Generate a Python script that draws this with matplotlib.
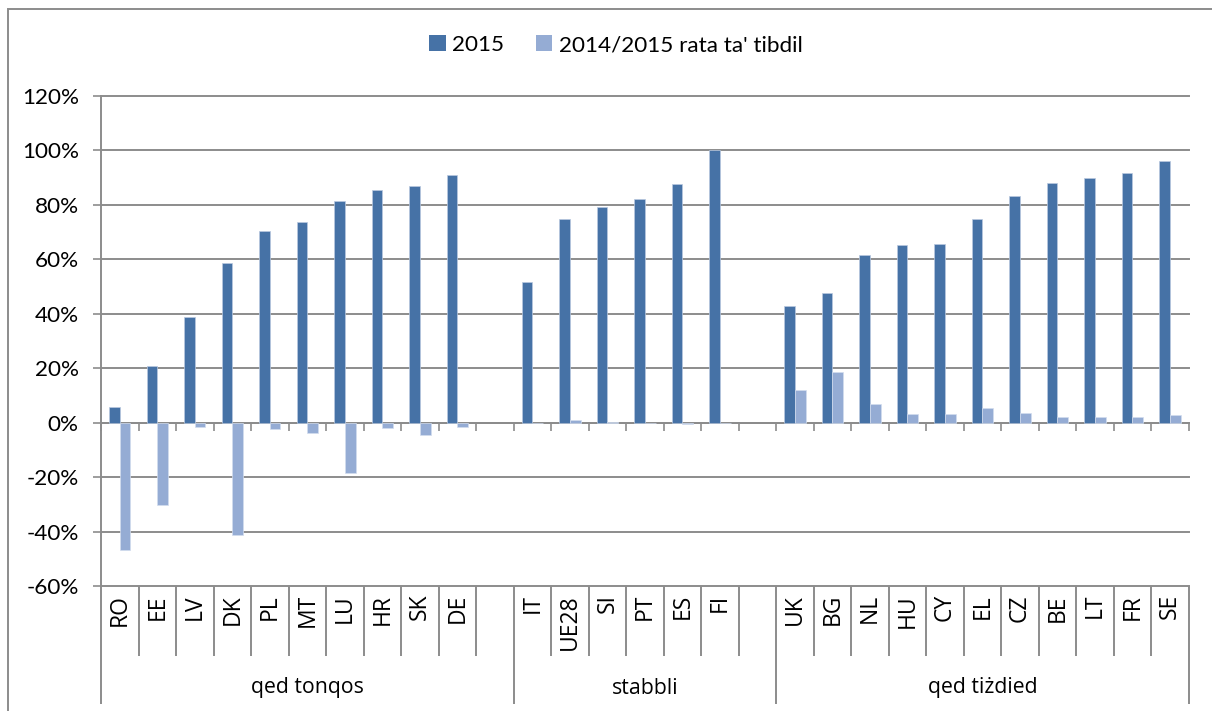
import numpy as np
import matplotlib
matplotlib.use("Agg")
import matplotlib.pyplot as plt
import matplotlib.transforms as mtransforms
from matplotlib.patches import Rectangle, Patch

# ---- data -------------------------------------------------------------
group_names = ["qed tonqos", "stabbli", "qed tiżdied"]

codes_down = ["RO", "EE", "LV", "DK", "PL", "MT", "LU", "HR", "SK", "DE"]
codes_stable = ["IT", "UE28", "SI", "PT", "ES", "FI"]
codes_up = ["UK", "BG", "NL", "HU", "CY", "EL", "CZ", "BE", "LT", "FR", "SE"]

share_2015_down = [5.7, 20.8, 39.0, 58.6, 70.5, 73.7, 81.4, 85.4, 86.9, 91.0]
share_2015_stable = [51.6, 74.9, 79.2, 82.2, 87.6, 100.0]
share_2015_up = [42.8, 47.6, 61.5, 65.1, 65.7, 74.9, 83.2, 88.1, 89.8, 91.6, 96.0]

change_down = [-46.6, -30.2, -1.7, -41.3, -2.4, -3.9, -18.6, -1.8, -4.5, -1.5]
change_stable = [-0.3, 0.8, 0.3, -0.3, -0.4, 0.0]
change_up = [12.0, 18.5, 6.9, 3.1, 3.1, 5.4, 3.4, 2.2, 2.0, 2.2, 2.7]

series_names = ["2015", "2014/2015 rata ta' tibdil"]
y_ticks = [-60, -40, -20, 0, 20, 40, 60, 80, 100, 120]

# ---- assemble slots (an empty slot closes the first two groups) -------
groups = [
    (codes_down, share_2015_down, change_down),
    (codes_stable, share_2015_stable, change_stable),
    (codes_up, share_2015_up, change_up),
]
labels, v2015, vchg, group_bounds = [], [], [], [0]
for gi, (codes, a, b) in enumerate(groups):
    labels += codes
    v2015 += a
    vchg += b
    if gi < len(groups) - 1:
        labels.append("")
        v2015.append(np.nan)
        vchg.append(np.nan)
    group_bounds.append(len(labels))

n = len(labels)
v2015 = np.array(v2015) / 100.0
vchg = np.array(vchg) / 100.0

# ---- style ------------------------------------------------------------
W, H = 1212, 711
DARK = "#4672A6"
LIGHT = "#95ACD4"
GRID = "#8C8C8C"
TXT = "#000000"
plt.rcParams["font.family"] = ["Lato", "DejaVu Sans"]
CAT_FONT = ["Open Sans", "DejaVu Sans"]

fig = plt.figure(figsize=(W / 100, H / 100), dpi=100)
fig.patch.set_facecolor("white")

# outer chart frame
fig.add_artist(Rectangle((8 / W, -0.2), 1.3, 1.2 - 9 / H,
                         transform=fig.transFigure, fill=False,
                         edgecolor=GRID, linewidth=1.4))

x0, x1 = 101 / W, 1188.7 / W
yb, yt = 1 - 586 / H, 1 - 96 / H
ax = fig.add_axes([x0, yb, x1 - x0, yt - yb])
ax.set_xlim(0, n)
ax.set_ylim(-0.6, 1.2)

bw = 0.2857
centers = np.arange(n) + 0.5
ax.bar(centers - bw, v2015, width=bw, align="edge", color=DARK,
       edgecolor="#B9C9E0", linewidth=0.5, zorder=3, label=series_names[0])
ax.bar(centers, vchg, width=bw, align="edge", color=LIGHT,
       edgecolor="#D3DDEE", linewidth=0.5, zorder=3, label=series_names[1])

# value axis
ax.set_yticks(np.array(y_ticks) / 100.0)
ax.set_yticklabels([f"{t}%" for t in y_ticks], fontsize=16.2, color=TXT)
ax.yaxis.grid(True, color=GRID, linewidth=1.4, zorder=0)
for gl in ax.get_ygridlines():
    gl.set_clip_on(False)
ax.tick_params(axis="y", length=6, width=1.2, color=GRID, pad=10)
for s in ["top", "right"]:
    ax.spines[s].set_visible(False)
ax.spines["left"].set_color(GRID)
ax.spines["left"].set_linewidth(1.4)

# category axis crossing at zero with outward ticks at slot boundaries
ax.spines["bottom"].set_position(("data", 0))
ax.spines["bottom"].set_color(GRID)
ax.spines["bottom"].set_linewidth(1.4)
ax.set_xticks(np.arange(n + 1))
ax.set_xticklabels([""] * (n + 1))
ax.tick_params(axis="x", length=6, width=1.2, color=GRID, direction="out")

# multi-level category labels below the plot
trans = mtransforms.blended_transform_factory(ax.transData, fig.transFigure)
y_top = yb
y_short = 1 - 656 / H
y_long = 1 - 704 / H
for k in range(n + 1):
    bottom = y_long if k in group_bounds else y_short
    ax.plot([k, k], [y_top, bottom], transform=trans, color=GRID,
            linewidth=1.4, clip_on=False, solid_capstyle="butt")
for i, lab in enumerate(labels):
    if lab:
        ax.text(i + 0.5, 1 - 594 / H, lab, transform=trans, rotation=90,
                ha="center", va="top", fontsize=16.5, color=TXT,
                family=CAT_FONT)
for gi, name in enumerate(group_names):
    xm = (group_bounds[gi] + group_bounds[gi + 1]) / 2
    ax.text(xm, 1 - 688 / H, name, transform=trans, ha="center",
            va="center", fontsize=15.3, color=TXT, family=CAT_FONT)

# legend
handles = [Patch(facecolor=DARK, edgecolor="none"),
           Patch(facecolor=LIGHT, edgecolor="none")]
fig.legend(handles, series_names, loc="center",
           bbox_to_anchor=(616 / W, 1 - 45 / H), ncol=2, frameon=False,
           fontsize=16.2, handlelength=0.72, handleheight=0.72,
           handletextpad=0.3, columnspacing=1.4)

fig.savefig("out.png", dpi=100, facecolor="white")
